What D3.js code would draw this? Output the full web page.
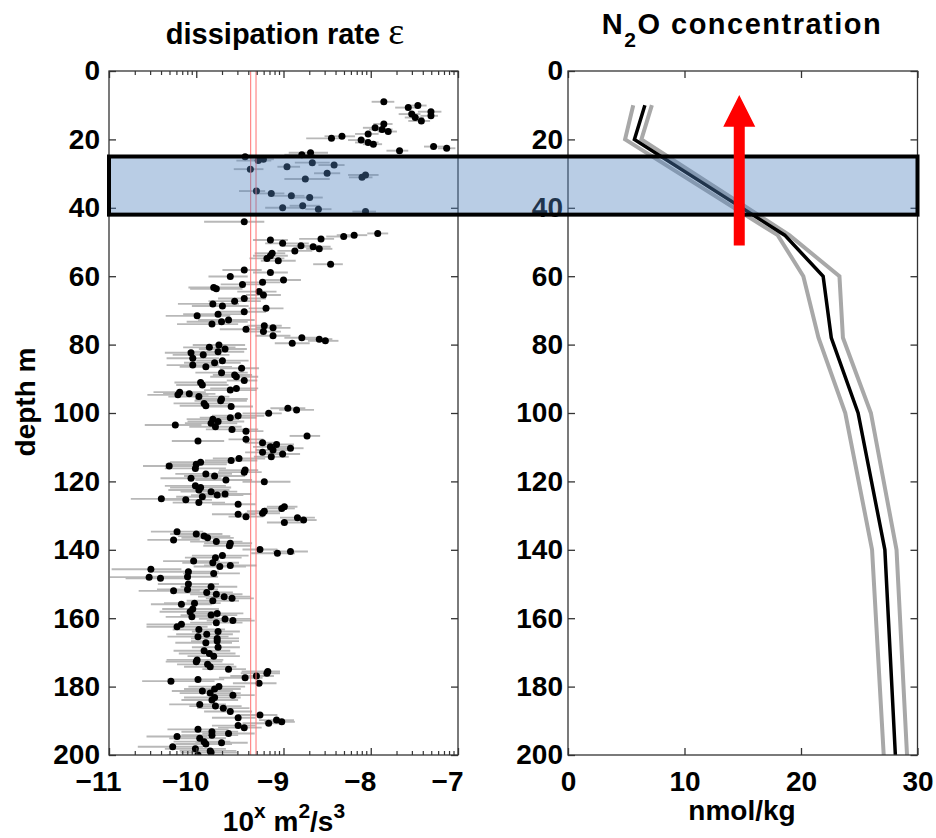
<!DOCTYPE html>
<html>
<head>
<meta charset="utf-8">
<script src="https://cdn.jsdelivr.net/npm/d3@7"></script>
<style>
    body { margin: 0; background: #fff; }
    text { font-family: "Liberation Sans", Arial, Helvetica, sans-serif; font-weight: bold; fill: #000; }
</style>
</head>
<body>
<div id="chart"></div>
<script>
// dissipation rate profile: [depth m, log10 eps, err minus, err plus]
let epsData = [
    [9.0,-7.85,.14,.12],[10.1,-7.46,.12,.1],[10.7,-7.57,.15,.12],[11.9,-7.31,.15,.12],[12.6,-7.53,.15,.1],
    [13.1,-7.31,.12,.08],[13.6,-7.49,.12,.1],[14.6,-7.42,.15,.1],[15.5,-7.85,.12,.1],[16.6,-7.95,.14,.12],
    [17.1,-7.87,.15,.12],[17.7,-7.80,.12,.1],[18.4,-8.03,.15,.12],[19.1,-8.33,.2,.15],[19.7,-8.45,.29,.09],
    [20.2,-8.11,.15,.1],[20.9,-8.03,.15,.12],[21.4,-7.97,.12,.1],[22.1,-7.28,.11,.19],[22.6,-7.13,.1,.1],
    [23.3,-7.67,.15,.1],[23.9,-8.69,.25,.2],[24.5,-8.79,.2,.15],[25.1,-9.44,.2,.1],[25.8,-9.23,.15,.12],
    [26.2,-9.29,.25,.15],[26.8,-8.67,.2,.2],[27.5,-8.42,.18,.12],[28.0,-8.96,.11,.15],[28.7,-9.38,.19,.15],
    [29.9,-8.50,.15,.15],[30.4,-8.06,.2,.15],[31.1,-8.10,.15,.12],[31.6,-8.75,.24,.28],[35.1,-9.31,.2,.1],
    [35.8,-9.14,.15,.15],[36.5,-8.91,.2,.15],[37.0,-8.70,.2,.15],[39.4,-8.78,.15,.2],[40.0,-9.01,.2,.2],
    [40.4,-8.60,.15,.15],[41.1,-8.06,.15,.12],[44.1,-9.45,.46,.23],[47.5,-7.92,.12,.12],[48.0,-8.19,.2,.15],
    [48.4,-8.31,.2,.15],[49.1,-8.57,.25,.15],[49.4,-9.15,.2,.2],[50.4,-9.01,.2,.3],[51.1,-8.80,.2,.2],
    [51.4,-8.66,.2,.2],[52.0,-8.59,.15,.15],[52.6,-8.87,.2,.2],[53.3,-9.13,.2,.15],[54.0,-9.15,.2,.2],
    [54.8,-9.19,.2,.2],[55.5,-9.06,.2,.2],[56.5,-8.46,.2,.14],[58.2,-9.45,.25,.2],[58.9,-9.15,.2,.2],
    [60.1,-9.61,.25,.2],[61.1,-9.00,.25,.2],[61.8,-9.24,.2,.2],[62.4,-9.47,.25,.2],[63.3,-9.80,.29,.32],
    [63.7,-9.77,.3,.3],[64.5,-9.28,.25,.2],[65.5,-9.23,.2,.2],[66.5,-9.45,.3,.25],[67.3,-9.56,.3,.3],
    [68.1,-9.81,.4,.3],[68.7,-9.70,.35,.3],[69.4,-9.20,.2,.2],[70.4,-9.45,.3,.25],[71.1,-9.75,.4,.3],
    [71.6,-9.99,.36,.38],[72.8,-9.63,.35,.3],[73.3,-9.71,.4,.3],[74.0,-9.82,.4,.3],[74.5,-9.22,.2,.2],
    [75.1,-9.12,.2,.2],[75.5,-9.43,.3,.2],[76.2,-9.23,.2,.2],[77.4,-9.12,.2,.2],[78.0,-8.79,.2,.2],
    [78.4,-8.59,.2,.15],[78.9,-8.52,.2,.15],[79.6,-8.90,.2,.2],[80.1,-9.74,.3,.3],[80.8,-9.85,.3,.3],
    [81.3,-9.67,.3,.25],[82.1,-9.75,.35,.3],[82.4,-10.06,.3,.3],[83.0,-9.92,.35,.3],[84.0,-10.04,.3,.3],
    [84.7,-9.70,.3,.3],[85.3,-9.79,.35,.3],[86.0,-10.04,.3,.3],[86.5,-9.89,.3,.3],[86.9,-9.48,.25,.2],
    [88.2,-9.71,.3,.3],[88.9,-9.56,.25,.2],[89.4,-9.54,.3,.25],[90.5,-9.45,.2,.15],[91.1,-9.95,.3,.3],
    [91.8,-9.93,.3,.3],[92.8,-9.54,.3,.25],[93.3,-9.61,.3,.3],[93.9,-10.19,.3,.3],[94.4,-10.08,.3,.3],
    [94.7,-10.21,.35,.35],[95.2,-9.97,.35,.35],[95.9,-9.71,.3,.3],[96.4,-9.72,.3,.3],[97.2,-9.91,.35,.3],
    [97.9,-9.89,.3,.3],[98.1,-9.60,.3,.25],[98.6,-8.95,.2,.2],[99.1,-8.85,.2,.2],[100.1,-9.17,.3,.15],
    [100.8,-9.52,.3,.3],[101.4,-9.61,.35,.3],[101.8,-9.81,.3,.3],[102.5,-9.75,.35,.3],[103.0,-9.83,.3,.3],
    [103.5,-10.24,.35,.3],[104.0,-9.78,.3,.3],[104.8,-9.59,.3,.3],[105.3,-9.43,.2,.2],[106.7,-8.73,.2,.15],
    [107.7,-9.43,.2,.2],[108.2,-9.98,.3,.3],[108.7,-9.24,.2,.2],[109.2,-9.08,.2,.2],[109.9,-9.15,.2,.2],
    [110.3,-8.92,.2,.15],[110.8,-9.12,.2,.2],[111.5,-9.24,.2,.2],[112.0,-9.01,.2,.2],[112.8,-9.14,.2,.2],
    [113.3,-9.51,.3,.3],[113.9,-9.60,.3,.3],[114.4,-9.95,.35,.35],[115.0,-10.00,.35,.35],[115.5,-10.31,.3,.3],
    [116.2,-10.01,.35,.35],[116.7,-9.44,.3,.15],[117.3,-9.45,.3,.2],[117.8,-9.89,.35,.3],[118.4,-9.79,.35,.35],
    [119.1,-10.06,.35,.35],[119.6,-9.66,.35,.3],[120.1,-9.22,.25,.3],[121.3,-10.01,.35,.35],[121.8,-9.95,.35,.35],
    [122.5,-9.97,.35,.35],[123.0,-9.83,.35,.3],[123.7,-9.67,.3,.3],[124.0,-9.76,.3,.3],[124.5,-9.93,.3,.3],
    [125.1,-10.40,.35,.3],[125.4,-10.12,.3,.3],[126.2,-9.97,.3,.3],[126.7,-9.52,.3,.2],[127.4,-8.99,.2,.15],
    [127.9,-9.02,.2,.15],[128.7,-9.22,.2,.2],[129.3,-9.24,.2,.2],[129.6,-9.52,.3,.2],[130.3,-9.43,.2,.2],
    [130.6,-8.84,.2,.2],[131.3,-8.77,.2,.15],[132.0,-8.99,.2,.2],[134.7,-10.22,.3,.3],[135.4,-10.00,.3,.3],
    [136.0,-9.91,.3,.3],[136.5,-9.87,.3,.3],[137.1,-10.26,.3,.3],[137.6,-9.77,.3,.3],[138.1,-9.61,.3,.25],
    [138.8,-9.62,.3,.25],[139.9,-9.27,.2,.2],[140.5,-8.92,.2,.2],[141.0,-9.07,.3,.2],[141.7,-9.70,.35,.3],
    [142.3,-9.78,.35,.3],[143.3,-10.03,.35,.3],[143.8,-9.81,.35,.3],[144.6,-9.61,.3,.3],[144.9,-9.73,.3,.3],
    [145.7,-10.52,.45,.35],[146.4,-10.09,.4,.35],[146.9,-9.80,.35,.3],[147.9,-10.10,.4,.35],[148.0,-10.54,.45,.35],
    [148.3,-10.41,.4,.35],[150.0,-10.09,.35,.35],[150.8,-9.83,.35,.3],[151.6,-10.10,.35,.35],[152.0,-10.26,.4,.3],
    [152.5,-9.88,.35,.3],[153.0,-9.77,.3,.3],[153.7,-9.68,.3,.3],[154.2,-9.59,.3,.25],[154.9,-9.81,.3,.3],
    [155.6,-10.02,.35,.3],[155.9,-10.17,.35,.35],[157.3,-10.04,.35,.3],[158.1,-10.07,.35,.3],[158.6,-9.76,.35,.3],
    [159.1,-9.83,.35,.3],[159.6,-10.05,.3,.3],[160.2,-9.67,.3,.3],[160.7,-9.58,.3,.25],[161.3,-9.77,.3,.3],
    [161.8,-10.17,.4,.35],[162.5,-10.22,.35,.35],[163.3,-9.97,.3,.3],[163.9,-9.75,.3,.25],[164.7,-9.88,.35,.3],
    [165.4,-9.98,.35,.35],[165.9,-9.76,.3,.25],[166.7,-9.76,.3,.25],[167.2,-9.89,.35,.3],[168.5,-9.75,.3,.25],
    [169.5,-9.91,.35,.3],[170.3,-9.85,.35,.3],[171.1,-9.80,.3,.3],[172.2,-9.99,.35,.3],[172.7,-10.00,.35,.3],
    [173.5,-9.87,.35,.3],[174.2,-9.84,.3,.3],[174.9,-9.63,.3,.2],[175.6,-9.18,.3,.14],[176.1,-9.19,.3,.15],
    [176.9,-9.31,.3,.2],[177.4,-9.44,.3,.2],[177.9,-9.98,.35,.3],[178.4,-10.29,.33,.5],[179.0,-9.28,.3,.2],
    [180.0,-9.74,.35,.3],[180.7,-9.79,.35,.3],[181.3,-9.93,.35,.35],[181.9,-9.84,.35,.35],[182.5,-9.58,.3,.25],
    [183.2,-9.79,.35,.3],[183.9,-9.82,.35,.3],[185.2,-9.96,.35,.3],[185.7,-9.78,.3,.3],[186.3,-9.69,.3,.3],
    [187.3,-9.61,.3,.25],[188.3,-9.27,.25,.2],[189.1,-9.52,.3,.2],[189.8,-9.08,.2,.2],[190.3,-9.02,.2,.15],
    [190.7,-9.17,.3,.15],[191.4,-9.52,.3,.2],[192.0,-9.45,.3,.2],[192.5,-9.98,.35,.35],[193.2,-9.82,.35,.3],
    [193.7,-9.63,.3,.3],[194.2,-9.82,.35,.3],[194.6,-10.22,.35,.35],[195.1,-9.96,.35,.3],[196.1,-9.91,.35,.3],
    [196.4,-9.71,.3,.3],[196.8,-9.89,.35,.3],[197.6,-10.27,.4,.35],[198.2,-10.01,.35,.35],[198.8,-9.84,.35,.3],
    [199.3,-9.83,.35,.3],[200.0,-9.98,.35,.3]
];

// noise level lines (log10 eps)
let noiseLines = [-9.376, -9.315];

// N2O profile
let n2oDepth = [10, 20, 48, 60, 78, 100, 140, 200];
let n2oMean  = [6.6, 5.7, 18.6, 21.9, 22.6, 24.9, 27.2, 28.1];
let n2oLow   = [5.6, 4.9, 18.0, 20.2, 21.5, 23.8, 26.1, 27.1];
let n2oHigh  = [7.2, 6.3, 19.0, 23.3, 23.6, 26.0, 28.2, 29.1];

// highlighted layer (depth m) and arrow
let bandDepth = [25, 42];
let arrowN2O = 14.7;
let arrowDepth = [51, 16.3, 7];   // tail, head base, tip

let depthTicks = [0, 20, 40, 60, 80, 100, 120, 140, 160, 180, 200];
let epsTicks = [-11, -10, -9, -8, -7];
let n2oTicks = [0, 10, 20, 30];

let W = 936, H = 838;
let svg = d3.select("#chart").append("svg")
    .attr("width", W)
    .attr("height", H);

let y = d3.scaleLinear().domain([0, 200]).range([71, 755]);
let xL = d3.scaleLinear().domain([-11, -7]).range([109, 458]);
let xR = d3.scaleLinear().domain([0, 30]).range([568, 917.5]);

svg.append("clipPath").attr("id", "clipL")
    .append("rect")
    .attr("x", xL(-11)).attr("y", y(0))
    .attr("width", xL(-7) - xL(-11)).attr("height", y(200) - y(0));

// ---------- left panel ----------
let gL = svg.append("g").attr("clip-path", "url(#clipL)");

gL.selectAll(".err")
    .data(epsData)
    .enter().append("line")
    .attr("class", "err")
    .attr("x1", d => xL(d[1] - d[2]))
    .attr("x2", d => xL(d[1] + d[3]))
    .attr("y1", d => y(d[0]))
    .attr("y2", d => y(d[0]))
    .attr("stroke", "#b8b8b8")
    .attr("stroke-width", 1.9);

gL.selectAll(".dot")
    .data(epsData)
    .enter().append("circle")
    .attr("class", "dot")
    .attr("cx", d => xL(d[1]))
    .attr("cy", d => y(d[0]))
    .attr("r", 3.5)
    .attr("fill", "#000");

gL.selectAll(".noise")
    .data(noiseLines)
    .enter().append("line")
    .attr("x1", d => xL(d)).attr("x2", d => xL(d))
    .attr("y1", y(0)).attr("y2", y(200))
    .attr("stroke", "#ff7070")
    .attr("stroke-width", 1);

function frame(x0, x1) {
    svg.append("rect")
        .attr("x", x0).attr("y", y(0))
        .attr("width", x1 - x0).attr("height", y(200) - y(0))
        .attr("fill", "none")
        .attr("stroke", "#333")
        .attr("stroke-width", 1.3);
}

function styleAxis(g) {
    g.select(".domain").remove();
    g.selectAll(".tick line").attr("stroke", "#333").attr("stroke-width", 1.3);
    g.selectAll(".tick text")
        .style("font-size", "28px")
        .style("font-weight", "bold")
        .style("font-family", '"Liberation Sans", Arial, sans-serif')
        .attr("fill", "#000");
}

// depth axes
[[xL, -7, -11, 9], [xR, 30, 0, 5]].forEach(function(p) {
    let sc = p[0];
    svg.append("g")
        .attr("transform", "translate(" + sc(p[2]) + ",0)")
        .call(d3.axisLeft(y).tickValues(depthTicks).tickSize(-7).tickPadding(p[3]))
        .call(styleAxis);
    svg.append("g")
        .attr("transform", "translate(" + sc(p[1]) + ",0)")
        .call(d3.axisRight(y).tickValues(depthTicks).tickSize(-7).tickFormat(""))
        .call(styleAxis);
});

// eps axes with log minor ticks
svg.append("g")
    .attr("transform", "translate(0," + y(200) + ")")
    .call(d3.axisBottom(xL).tickValues(epsTicks).tickSize(-7).tickPadding(16).tickFormat(d3.format("d")))
    .call(styleAxis)
    .selectAll(".tick text").attr("dx", -11);
svg.append("g")
    .attr("transform", "translate(0," + y(0) + ")")
    .call(d3.axisTop(xL).tickValues(epsTicks).tickSize(-7).tickFormat(""))
    .call(styleAxis);

let minor = [];
for (let dec = -11; dec < -7; dec++) {
    for (let k = 2; k <= 9; k++) minor.push(dec + Math.log10(k));
}
[[y(200), -1], [y(0), 1]].forEach(function(p) {
    svg.selectAll(null)
        .data(minor)
        .enter().append("line")
        .attr("x1", d => xL(d)).attr("x2", d => xL(d))
        .attr("y1", p[0]).attr("y2", p[0] + p[1] * 4)
        .attr("stroke", "#333")
        .attr("stroke-width", 1.2);
});
frame(xL(-11), xL(-7));

// ---------- right panel ----------
let line = d3.line()
    .x(d => xR(d[1]))
    .y(d => y(d[0]));

[n2oLow, n2oHigh].forEach(function(arr) {
    svg.append("path")
        .datum(n2oDepth.map((d, i) => [d, arr[i]]))
        .attr("d", line)
        .attr("fill", "none")
        .attr("stroke", "#a8a8a8")
        .attr("stroke-width", 4);
});
svg.append("path")
    .datum(n2oDepth.map((d, i) => [d, n2oMean[i]]))
    .attr("d", line)
    .attr("fill", "none")
    .attr("stroke", "#000")
    .attr("stroke-width", 3.5);

svg.append("g")
    .attr("transform", "translate(0," + y(200) + ")")
    .call(d3.axisBottom(xR).tickValues(n2oTicks).tickSize(-7).tickPadding(16))
    .call(styleAxis);
svg.append("g")
    .attr("transform", "translate(0," + y(0) + ")")
    .call(d3.axisTop(xR).tickValues(n2oTicks).tickSize(-7).tickFormat(""))
    .call(styleAxis);
frame(xR(0), xR(30));

// ---------- highlighted layer ----------
svg.append("rect")
    .attr("x", xL(-11))
    .attr("y", y(bandDepth[0]))
    .attr("width", xR(30) - xL(-11))
    .attr("height", y(bandDepth[1]) - y(bandDepth[0]))
    .attr("fill", "#4f81bd")
    .attr("fill-opacity", 0.4)
    .attr("stroke", "#000")
    .attr("stroke-width", 4);

// red arrow
let ax = xR(arrowN2O);
let shaft = 5.5, head = 16;
let pts = [
    [ax - shaft, y(arrowDepth[0])], [ax - shaft, y(arrowDepth[1])], [ax - head, y(arrowDepth[1])],
    [ax, y(arrowDepth[2])],
    [ax + head, y(arrowDepth[1])], [ax + shaft, y(arrowDepth[1])], [ax + shaft, y(arrowDepth[0])]
];
svg.append("polygon")
    .attr("points", pts.map(p => p.join(",")).join(" "))
    .attr("fill", "#ff0000");

// ---------- titles and labels ----------
let t1 = svg.append("text")
    .attr("x", 285).attr("y", 44)
    .attr("text-anchor", "middle")
    .style("font-size", "29px");
t1.append("tspan").text("dissipation rate ");
t1.append("tspan")
    .style("font-family", '"Liberation Serif", "DejaVu Serif", serif')
    .style("font-weight", "normal")
    .style("font-size", "38px")
    .text("ε");

let t2 = svg.append("text")
    .attr("x", 742).attr("y", 34)
    .attr("text-anchor", "middle")
    .style("font-size", "29px")
    .style("letter-spacing", "1.5px");
t2.append("tspan").text("N");
t2.append("tspan").attr("dy", 13).style("font-size", "21px").text("2");
t2.append("tspan").attr("dy", -13).text("O concentration");

svg.append("text")
    .attr("transform", "translate(35,402) rotate(-90)")
    .attr("text-anchor", "middle")
    .style("font-size", "28px")
    .text("depth m");

let xl = svg.append("text")
    .attr("x", 284).attr("y", 831)
    .attr("text-anchor", "middle")
    .style("font-size", "28px");
xl.append("tspan").text("10");
xl.append("tspan").attr("dy", -13).style("font-size", "21px").text("x");
xl.append("tspan").attr("dy", 13).text(" m");
xl.append("tspan").attr("dy", -13).style("font-size", "21px").text("2");
xl.append("tspan").attr("dy", 13).text("/s");
xl.append("tspan").attr("dy", -13).style("font-size", "21px").text("3");

svg.append("text")
    .attr("x", 742).attr("y", 820)
    .attr("text-anchor", "middle")
    .style("font-size", "28px")
    .text("nmol/kg");
</script>
</body>
</html>
